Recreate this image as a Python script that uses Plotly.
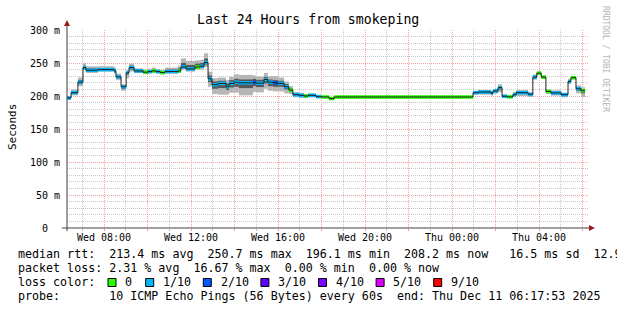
import plotly.graph_objects as go
import pandas as pd

# ---------------- data ----------------
seg_start = [
    "2025-12-10 06:18", "2025-12-10 06:29", "2025-12-10 06:48", "2025-12-10 07:02",
    "2025-12-10 07:10", "2025-12-10 07:43", "2025-12-10 08:28", "2025-12-10 08:33",
    "2025-12-10 08:47", "2025-12-10 09:01", "2025-12-10 09:09", "2025-12-10 09:23",
    "2025-12-10 09:48", "2025-12-10 10:01", "2025-12-10 10:12", "2025-12-10 10:23",
    "2025-12-10 10:35", "2025-12-10 10:48", "2025-12-10 11:24", "2025-12-10 11:32",
    "2025-12-10 11:46", "2025-12-10 12:11", "2025-12-10 12:25", "2025-12-10 12:36",
    "2025-12-10 12:47", "2025-12-10 12:58", "2025-12-10 13:14", "2025-12-10 13:37",
    "2025-12-10 13:45", "2025-12-10 13:59", "2025-12-10 14:12", "2025-12-10 14:51",
    "2025-12-10 14:59", "2025-12-10 15:21", "2025-12-10 15:32", "2025-12-10 15:46",
    "2025-12-10 16:00", "2025-12-10 16:17", "2025-12-10 16:30", "2025-12-10 16:41",
    "2025-12-10 16:58", "2025-12-10 17:12", "2025-12-10 17:23", "2025-12-10 17:45",
    "2025-12-10 17:59", "2025-12-10 18:21", "2025-12-10 18:35", "2025-12-11 00:58",
    "2025-12-11 01:12", "2025-12-11 01:48", "2025-12-11 01:53", "2025-12-11 02:07",
    "2025-12-11 02:18", "2025-12-11 02:32", "2025-12-11 02:48", "2025-12-11 02:57",
    "2025-12-11 03:30", "2025-12-11 03:43", "2025-12-11 03:54", "2025-12-11 04:06",
    "2025-12-11 04:19", "2025-12-11 04:33", "2025-12-11 05:01", "2025-12-11 05:20",
    "2025-12-11 05:28", "2025-12-11 05:42", "2025-12-11 05:56",
]
data_end = "2025-12-11 06:07"

median_ms = [
    197.0, 205.0, 221.0, 243.0, 239.0, 240.0, 238.0, 229.0, 214.0, 235.0, 243.0, 238.0,
    236.0, 237.0, 238.0, 237.0, 235.6, 237.0, 238.0, 244.0, 241.0, 244.0, 245.0, 250.7,
    226.0, 217.0, 219.0, 214.0, 219.0, 221.0, 220.0, 221.0, 219.5, 225.0, 221.0, 220.0,
    219.0, 214.0, 209.0, 202.0, 201.0, 200.0, 201.0, 199.0, 198.5, 196.1, 198.5, 205.0,
    206.0, 204.0, 207.6, 212.7, 199.7, 198.7, 202.0, 205.0, 202.5, 228.6, 234.6, 228.6,
    207.0, 204.6, 202.0, 222.0, 227.8, 211.0, 208.2,
]

loss_pct = [
    3.3, 3.3, 3.3, 3.3, 3.3, 3.3, 3.3, 3.3, 3.3, 3.3, 3.3, 3.3,
    0, 3.3, 0, 3.3, 0, 3.3, 0, 3.3, 3.3, 0, 3.3, 3.3,
    3.3, 3.3, 3.3, 3.3, 3.3, 3.3, 3.3, 16.67, 3.3, 3.3, 3.3, 16.67,
    3.3, 3.3, 0, 3.3, 3.3, 0, 3.3, 3.3, 0, 0, 0, 3.3,
    3.3, 3.3, 3.3, 3.3, 3.3, 0, 3.3, 3.3, 3.3, 3.3, 0, 0,
    0, 3.3, 3.3, 3.3, 0, 3.3, 0,
]

# smoke: outer (min..max ping) and inner spread, in ms relative to the median
smoke_up = [
    3, 5, 7, 7, 6, 5, 5, 5, 4, 4, 6, 4,
    4, 4, 5, 4, 4, 6, 8, 13, 12, 10, 10, 14,
    11, 10, 9, 10, 10, 12, 12, 10, 10, 10, 9, 10,
    9, 8, 6, 4, 4, 3, 3, 2, 0, 0, 0, 3,
    3, 3, 3, 5, 2, 2, 4, 4, 3, 4, 3, 3,
    3, 4, 3, 4, 2, 5, 5,
]
smoke_dn = [
    3, 4, 6, 3, 4, 3, 4, 5, 6, 8, 6, 3,
    3, 3, 3, 3, 3, 3, 3, 4, 4, 4, 5, 7,
    12, 14, 17, 12, 14, 16, 19, 15, 14, 14, 13, 13,
    12, 10, 6, 4, 4, 3, 3, 2, 0, 0, 0, 3,
    4, 3, 4, 7, 2, 2, 3, 5, 4, 4, 3, 3,
    4, 4, 4, 4, 3, 7, 10,
]
inner_up = [
    1.5, 2, 3, 3, 3, 2, 2, 2, 2, 2, 3, 2,
    2, 2, 2, 2, 2, 3, 4, 6, 6, 5, 5, 6,
    5, 5, 4, 5, 5, 5, 5, 5, 5, 4, 4, 4,
    4, 4, 3, 2, 2, 2, 2, 1, 0, 0, 0, 2,
    2, 2, 2, 2, 1, 1, 2, 2, 2, 2, 1, 1,
    2, 2, 2, 2, 1, 2, 2,
]
inner_dn = [
    1.5, 2, 3, 2, 2, 2, 2, 2, 3, 3, 3, 2,
    1, 1, 1, 1, 1, 2, 2, 2, 2, 2, 2, 3,
    5, 6, 7, 5, 6, 7, 8, 6, 6, 6, 6, 6,
    5, 4, 3, 2, 2, 2, 2, 1, 0, 0, 0, 2,
    2, 2, 2, 3, 1, 1, 2, 2, 2, 2, 1, 1,
    2, 2, 2, 2, 1, 3, 4,
]

x_tick_vals = [
    "2025-12-10 08:00", "2025-12-10 10:00", "2025-12-10 12:00", "2025-12-10 14:00",
    "2025-12-10 16:00", "2025-12-10 18:00", "2025-12-10 20:00", "2025-12-10 22:00",
    "2025-12-11 00:00", "2025-12-11 02:00", "2025-12-11 04:00", "2025-12-11 06:00",
]
x_tick_text = ["Wed 08:00", "", "Wed 12:00", "", "Wed 16:00", "", "Wed 20:00", "",
               "Thu 00:00", "", "Thu 04:00", ""]
y_tick_vals = [0, 50, 100, 150, 200, 250, 300]
y_tick_text = ["0\u00a0\u00a0", "50\u00a0m", "100\u00a0m", "150\u00a0m",
               "200\u00a0m", "250\u00a0m", "300\u00a0m"]

loss_labels = ["0", "1/10", "2/10", "3/10", "4/10", "5/10", "9/10"]
loss_limits = [0, 10, 20, 30, 40, 50, 100]
loss_colors = ["#26ff00", "#00b8ff", "#0059ff", "#5e00ff", "#7e00ff", "#dd00ff", "#ff0000"]

range_start = "2025-12-10 06:17:53"
range_end = "2025-12-11 06:17:53"

title_text = "Last 24 Hours from smokeping"
stat_lines = [
    "median rtt:  213.4 ms avg  250.7 ms max  196.1 ms min  208.2 ms now   16.5 ms sd  12.9 am/s",
    "packet loss: 2.31 % avg  16.67 % max  0.00 % min  0.00 % now",
    "probe:       10 ICMP Echo Pings (56 Bytes) every 60s  end: Thu Dec 11 06:17:53 2025",
]

# ---------------- geometry ----------------
W, H = 617, 310
L, R, T, B = 67, 589, 30, 228
MONO = "DejaVu Sans Mono"


def px(x):
    return (x - L) / (R - L)


def py(y):
    return (B - y) / (B - T)


def loss_color(v):
    for lim, c in zip(loss_limits, loss_colors):
        if v <= lim:
            return c
    return loss_colors[-1]


t = pd.to_datetime(seg_start + [data_end])
x0 = list(t[:-1])
widths = [(b - a).total_seconds() * 1000 for a, b in zip(t[:-1], t[1:])]

fig = go.Figure()

# outer smoke
fig.add_trace(go.Bar(
    x=x0, base=[m - d for m, d in zip(median_ms, smoke_dn)],
    y=[u + d for u, d in zip(smoke_up, smoke_dn)],
    width=widths, offset=0, marker=dict(color="#b6b6b6", line=dict(width=0)),
    hoverinfo="skip"))
# inner smoke
fig.add_trace(go.Bar(
    x=x0, base=[m - d for m, d in zip(median_ms, inner_dn)],
    y=[u + d for u, d in zip(inner_up, inner_dn)],
    width=widths, offset=0, marker=dict(color="#585858", line=dict(width=0)),
    hoverinfo="skip"))
# median line
fig.add_trace(go.Scatter(
    x=list(t), y=median_ms + [median_ms[-1]], mode="lines",
    line=dict(shape="hv", color="#202020", width=1), hoverinfo="skip"))
# loss-coloured median band
sw = 2.7
fig.add_trace(go.Bar(
    x=x0, base=[m - sw for m in median_ms], y=[2 * sw] * len(median_ms),
    width=widths, offset=0,
    marker=dict(color=[loss_color(v) for v in loss_pct], line=dict(width=0)),
    hoverinfo="skip"))

MINOR = "#c8c8c8"
MAJOR = "#f2a0a0"

fig.update_layout(
    width=W, height=H,
    margin=dict(l=L, r=W - R, t=T, b=H - B, pad=0),
    paper_bgcolor="white", plot_bgcolor="white",
    showlegend=False, barmode="overlay",
    font=dict(family=MONO, color="black"),
    xaxis=dict(
        type="date", range=[range_start, range_end],
        tickmode="array", tickvals=x_tick_vals, ticktext=x_tick_text,
        showgrid=True, gridcolor=MAJOR, griddash="1px,1px", gridwidth=1,
        ticks="outside", ticklen=2, tickcolor=MAJOR, ticklabelstandoff=-2,
        tickfont=dict(family=MONO, size=10, color="black"),
        minor=dict(dtick=3600000, tick0="2025-12-10 00:00", showgrid=True,
                   gridcolor=MINOR, griddash="1px,1px", ticks="outside",
                   ticklen=2, tickcolor=MINOR),
        zeroline=False, showline=False, fixedrange=True,
    ),
    yaxis=dict(
        range=[0, 300], tickmode="array", tickvals=y_tick_vals, ticktext=y_tick_text,
        showgrid=True, gridcolor=MAJOR, griddash="1px,1px", gridwidth=1,
        ticks="", ticklabelstandoff=6,
        tickfont=dict(family=MONO, size=10, color="black"),
        minor=dict(dtick=10, showgrid=True, gridcolor=MINOR, griddash="1px,1px"),
        zeroline=False, showline=False, fixedrange=True,
    ),
)

shapes = []
AX = "#404040"
ARROW = "#9b1c1c"
# x axis line + arrow
shapes.append(dict(type="line", xref="paper", yref="paper",
                   x0=px(62), x1=px(590), y0=py(228), y1=py(228),
                   line=dict(color=AX, width=1)))
shapes.append(dict(type="path", xref="paper", yref="paper",
                   path=f"M {px(589)} {py(225)} L {px(595)} {py(228)} L {px(589)} {py(231)} Z",
                   fillcolor=ARROW, line=dict(width=0)))
# y axis line + arrow
shapes.append(dict(type="line", xref="paper", yref="paper",
                   x0=px(67), x1=px(67), y0=py(231), y1=py(25),
                   line=dict(color=AX, width=1)))
shapes.append(dict(type="path", xref="paper", yref="paper",
                   path=f"M {px(64)} {py(26)} L {px(67)} {py(20)} L {px(70)} {py(26)} Z",
                   fillcolor=ARROW, line=dict(width=0)))

annotations = []


def text(x, y, s, size, anchor="left", color="black", angle=0):
    annotations.append(dict(
        xref="paper", yref="paper", x=px(x), y=py(y), text=s.replace(" ", "\u00a0"),
        showarrow=False, xanchor=anchor, yanchor="middle", textangle=angle,
        font=dict(family=MONO, size=size, color=color)))


text(307.5, 20, title_text, 13.2, anchor="center")
text(12, 127, "Seconds", 11, anchor="center", angle=-90)
text(606, 59, "RRDTOOL / TOBI OETIKER", 8, anchor="center", color="#b4b4b4", angle=90)

text(16, 254.3, stat_lines[0], 11.66)
text(16, 268.3, stat_lines[1], 11.66)
text(16, 282.3, "loss color:", 11.66)
text(16, 296.3, stat_lines[2], 11.66)

box_x = [108, 145.7, 203.3, 260.9, 318.5, 376.1, 433.7]
for bx, lab, col in zip(box_x, loss_labels, loss_colors):
    shapes.append(dict(type="rect", xref="paper", yref="paper",
                       x0=px(bx), x1=px(bx + 8), y0=py(278.5), y1=py(286.5),
                       fillcolor=col, line=dict(color="black", width=1)))
    text(bx + 15.3, 282.3, lab, 11.66)

fig.update_layout(shapes=shapes, annotations=annotations)
fig.write_html("out.html")
